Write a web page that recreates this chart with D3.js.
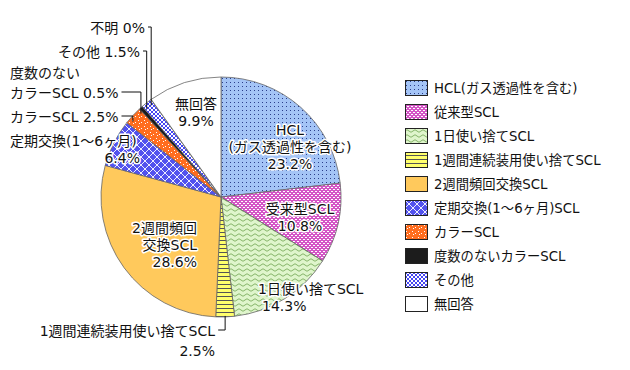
<!DOCTYPE html>
<html>
<head>
<meta charset="utf-8">
<script src="https://cdn.jsdelivr.net/npm/d3@7"></script>
<style>
  body { margin: 0; background: #fff; }
  text { font-family: "DejaVu Sans", "Noto Sans CJK JP", sans-serif; font-size: 14px; fill: #111; }
  .legend text { font-size: 13.3px; }
  .halo { stroke: #fff; stroke-width: 3px; stroke-linejoin: round; paint-order: stroke; }
</style>
</head>
<body>
<div id="chart"></div>
<script>
// slices, clockwise from 12 o'clock
const categories = [
  "HCL(ガス透過性を含む)", "従来型SCL", "1日使い捨てSCL", "1週間連続装用使い捨てSCL",
  "2週間頻回交換SCL", "定期交換(1～6ヶ月)SCL", "カラーSCL", "度数のないカラーSCL",
  "その他", "不明", "無回答"
];
const values = [23.2, 10.8, 14.3, 2.5, 28.6, 6.4, 2.5, 0.5, 1.5, 0, 9.9];
// legend has no entry for 不明
const legendKeys = categories.filter(c => c !== "不明");
const fills = [
  "url(#p-hcl)", "url(#p-conv)", "url(#p-daily)", "url(#p-week)",
  "#ffc95c", "url(#p-period)", "url(#p-color)", "#1c1c1c",
  "url(#p-other)", "#fff", "#fff"
];

// set the dimensions of the graph
var width = 630, height = 370;
var cx = 221, cy = 197, radius = 120;

var svg = d3.select("#chart").append("svg")
  .attr("width", width).attr("height", height);

// fill patterns
var defs = svg.append("defs");
function pat(id, w, h) {
  return defs.append("pattern").attr("id", id)
    .attr("patternUnits", "userSpaceOnUse").attr("width", w).attr("height", h);
}
var p = pat("p-hcl", 4, 4);
p.append("rect").attr("width", 4).attr("height", 4).attr("fill", "#a4c4f6");
p.append("rect").attr("x", 1).attr("y", 1).attr("width", 1).attr("height", 1).attr("fill", "#2b3f8c");

p = pat("p-conv", 4, 4);
p.append("rect").attr("width", 4).attr("height", 4).attr("fill", "#d455c6");
p.append("rect").attr("x", 0).attr("y", 0).attr("width", 2).attr("height", 1).attr("fill", "#fff");
p.append("rect").attr("x", 2).attr("y", 2).attr("width", 2).attr("height", 1).attr("fill", "#fff");

p = pat("p-daily", 8, 5);
p.append("rect").attr("width", 8).attr("height", 5).attr("fill", "#dff5cc");
p.append("path").attr("d", "M0,3 Q2,0.5 4,3 T8,3").attr("fill", "none")
  .attr("stroke", "#7aac5c").attr("stroke-width", 0.9);

p = pat("p-week", 4, 4);
p.append("rect").attr("width", 4).attr("height", 4).attr("fill", "#ffff6c");
p.append("rect").attr("y", 3).attr("width", 4).attr("height", 1).attr("fill", "#555");

p = pat("p-period", 8, 8);
p.append("rect").attr("width", 8).attr("height", 8).attr("fill", "#5252ee");
p.append("path").attr("d", "M0,0 L8,8 M8,0 L0,8").attr("stroke", "#fff").attr("stroke-width", 0.9);

p = pat("p-color", 6, 6);
p.append("rect").attr("width", 6).attr("height", 6).attr("fill", "#ff6d1f");
p.append("rect").attr("x", 1).attr("y", 1).attr("width", 1).attr("height", 1).attr("fill", "#fff");
p.append("rect").attr("x", 4).attr("y", 3).attr("width", 1).attr("height", 1).attr("fill", "#fff");
p.append("rect").attr("x", 2).attr("y", 4).attr("width", 1).attr("height", 1).attr("fill", "#fff");

p = pat("p-other", 4, 4);
p.append("rect").attr("width", 4).attr("height", 4).attr("fill", "#fff");
p.append("rect").attr("width", 2).attr("height", 2).attr("fill", "#4646f2");
p.append("rect").attr("x", 2).attr("y", 2).attr("width", 2).attr("height", 2).attr("fill", "#4646f2");

// pie
var pie = d3.pie().sort(null).value(d => d);
var arcs = pie(values);
var arc = d3.arc().innerRadius(0).outerRadius(radius);

var g = svg.append("g").attr("transform", "translate(" + cx + "," + cy + ")");
g.selectAll("path.slice")
  .data(arcs)
  .enter()
  .append("path")
    .attr("class", "slice")
    .attr("d", arc)
    .attr("fill", (d, i) => fills[i])
    .attr("stroke", "#666")
    .attr("stroke-width", 0.8);

// point on the rim at a slice's mid angle
function rim(i) {
  var a = (arcs[i].startAngle + arcs[i].endAngle) / 2;
  return [cx + radius * Math.sin(a), cy - radius * Math.cos(a)];
}

// labels inside the pie (relative to centre), with white halo
var inLabels = [
  { lines: ["HCL", "(ガス透過性を含む)", "23.2%"], x: 69, y: -67, anchor: "middle" },
  { lines: ["受来型SCL", "10.8%"], x: 79, y: 12, anchor: "middle" },
  { lines: ["1日使い捨てSCL", "14.3%"], x: 37, y: 92, anchor: "start", indent: [0, 4] },
  { lines: ["2週間頻回", "交換SCL", "28.6%"], x: -24, y: 31, anchor: "end" },
  { lines: ["無回答", "9.9%"], x: -25, y: -93, anchor: "middle" }
];
inLabels.forEach(l => {
  l.lines.forEach((t, k) => {
    svg.append("text").attr("class", "halo")
      .attr("x", cx + l.x + (l.indent ? l.indent[k] : 0))
      .attr("y", cy + l.y + k * 17)
      .attr("dy", "0.36em")
      .attr("text-anchor", l.anchor)
      .text(t);
  });
});

// outside labels with leader lines
var outLabels = [
  { i: 9, lines: ["不明 0%"], x: 145, anchor: "end", y: 28 },
  { i: 8, lines: ["その他 1.5%"], x: 140, anchor: "end", y: 52 },
  { i: 7, lines: ["度数のない", "カラーSCL 0.5%"], x: 10, anchor: "start", y: 73, lead: 1 },
  { i: 6, lines: ["カラーSCL 2.5%"], x: 10, anchor: "start", y: 117 },
  { i: 3, lines: ["1週間連続装用使い捨てSCL", "2.5%"], x: 215, anchor: "end", y: 331, up: true }
];
outLabels.forEach(l => {
  var right = 0;
  l.lines.forEach((t, k) => {
    var tx = svg.append("text").attr("class", "halo")
      .attr("x", l.x).attr("y", l.y + k * 20).attr("dy", "0.36em")
      .attr("text-anchor", l.anchor).text(t);
    if (k === (l.lead || 0)) {
      var b = tx.node().getBBox();
      right = b.x + b.width;
    }
  });
  var ly = l.y + (l.lead || 0) * 20 - 1;
  var r = rim(l.i);
  svg.append("path")
    .attr("d", "M" + (right + 3) + "," + ly + "H" + r[0] + "V" + (r[1] + (l.up ? -1 : 6)))
    .attr("fill", "none").attr("stroke", "#111").attr("stroke-width", 1);
});

// 定期交換 label sits on the rim
svg.append("text").attr("class", "halo")
  .attr("x", 10).attr("y", 141).attr("dy", "0.36em").text("定期交換(1～6ヶ月)");
svg.append("text").attr("class", "halo")
  .attr("x", 140).attr("y", 158).attr("dy", "0.36em").attr("text-anchor", "end").text("6.4%");

// legend
var legend = svg.append("g").attr("class", "legend").attr("transform", "translate(405,80)");
var item = legend.selectAll("g")
  .data(legendKeys)
  .enter()
  .append("g")
    .attr("transform", (d, i) => "translate(0," + i * 24 + ")");
item.append("rect")
  .attr("x", 0.5).attr("y", 0.5)
  .attr("width", 22).attr("height", 15)
  .attr("fill", d => fills[categories.indexOf(d)])
  .attr("stroke", "#222").attr("stroke-width", 1);
item.append("text")
  .attr("x", 29).attr("y", 8).attr("dy", "0.36em")
  .text(d => d);
</script>
</body>
</html>
